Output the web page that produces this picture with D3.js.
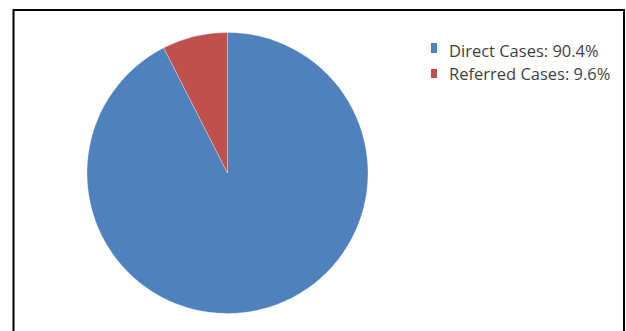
<!DOCTYPE html>
<html>
<head>
<meta charset="utf-8">
<script src="https://cdn.jsdelivr.net/npm/d3@7"></script>
<style>
  html, body { margin: 0; padding: 0; background: #fff; }
  svg { display: block; }
</style>
</head>
<body>
<svg id="chart" width="626" height="331"></svg>
<script>
// Categories and values
const categories = ["Direct Cases", "Referred Cases"];
const legendPercents = ["90.4%", "9.6%"];
const sliceValues = [92.5, 7.5];
const colors = ["#4F81BD", "#C0504D"];

const svg = d3.select("#chart");
const W = 626, H = 331;

// Frame border (bottom edge is cut off in the picture)
svg.append("rect")
  .attr("x", 13.5).attr("y", 10)
  .attr("width", 610.5).attr("height", H + 20)
  .attr("fill", "#fff")
  .attr("stroke", "#000")
  .attr("stroke-width", 2);

const cx = 227.5, cy = 173, r = 140.5;

const pie = d3.pie().sort(null).value(d => d.value).startAngle(0).endAngle(2 * Math.PI);
const arc = d3.arc().innerRadius(0).outerRadius(r);

const data = categories.map((c, i) => ({ name: c, value: sliceValues[i], color: colors[i] }));

svg.append("g")
  .attr("transform", `translate(${cx},${cy})`)
  .selectAll("path")
  .data(pie(data))
  .join("path")
  .attr("d", arc)
  .attr("fill", d => d.data.color)
  .attr("stroke", "rgba(255,255,255,0.35)")
  .attr("stroke-width", 0.8);

// Legend
const legend = svg.append("g").attr("transform", "translate(431,43)");
const rowH = 23;
const items = legend.selectAll("g")
  .data(data)
  .join("g")
  .attr("transform", (d, i) => `translate(0,${i * rowH})`);

items.append("rect")
  .attr("x", 0).attr("y", (d, i) => i === 0 ? 0 : 3)
  .attr("width", 6).attr("height", (d, i) => i === 0 ? 10 : 9)
  .attr("fill", d => d.color);

items.append("text")
  .attr("x", 18).attr("y", 14)
  .attr("font-family", "'Open Sans', sans-serif")
  .attr("font-size", 16.5)
  .attr("fill", "#3f3f3f")
  .text((d, i) => `${d.name}: ${legendPercents[i]}`);
</script>
</body>
</html>
